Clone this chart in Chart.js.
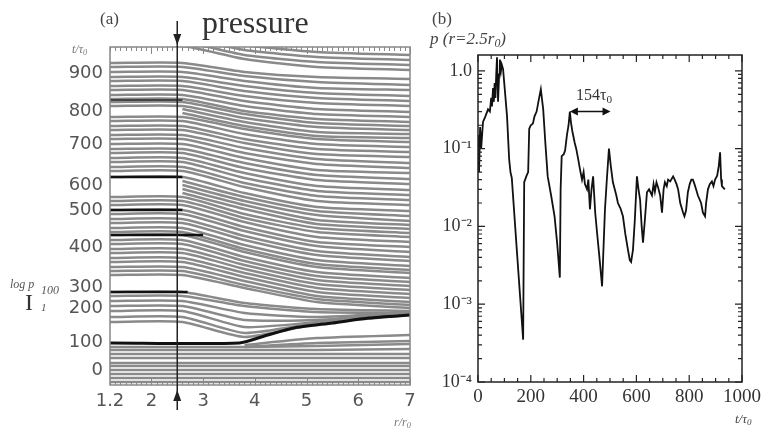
<!DOCTYPE html>
<html>
<head>
<meta charset="utf-8">
<script src="https://cdn.jsdelivr.net/npm/chart.js@4.4.1/dist/chart.umd.min.js"></script>
<style>
  html, body { margin: 0; padding: 0; background: #fff; }
  #wrap { position: relative; width: 765px; height: 436px; overflow: hidden; background: #fff; }
  canvas { position: absolute; left: 0; top: 0; }
  .t { position: absolute; white-space: nowrap; line-height: 1; }
  .serif { font-family: "Liberation Serif", "DejaVu Serif", serif; }
  .it { font-style: italic; }
  .sub { font-size: 70%; vertical-align: -0.25em; }
</style>
</head>
<body>
<div id="wrap">
  <canvas id="chartA" width="765" height="436" style="width:765px;height:436px"></canvas>
  <canvas id="chartB" width="765" height="436" style="width:765px;height:436px"></canvas>

  <div class="t serif" style="left:100px;top:10px;font-size:17px;color:#444">(a)</div>
  <div class="t serif" style="left:202px;top:6px;font-size:32px;color:#333">pressure</div>
  <div class="t serif it" style="left:72px;top:43px;font-size:12px;color:#777">t/τ<span class="sub">0</span></div>
  <div class="t serif it" style="left:10px;top:278px;font-size:12px;color:#555">log p</div>
  <div class="t serif it" style="left:41px;top:284px;font-size:12px;color:#555">100</div>
  <div class="t serif" style="left:25px;top:290px;font-size:24px;color:#333">I</div>
  <div class="t serif it" style="left:41px;top:302px;font-size:11px;color:#555">1</div>
  <div class="t serif it" style="left:394px;top:416px;font-size:12px;color:#777">r/r<span class="sub">0</span></div>

  <div class="t serif" style="left:432px;top:10px;font-size:17px;color:#444">(b)</div>
  <div class="t serif it" style="left:430px;top:30px;font-size:17px;color:#444">p (r=2.5r<span class="sub">0</span>)</div>
  <div class="t serif" style="left:576px;top:87px;font-size:16px;color:#333">154τ<span class="sub">0</span></div>
  <div class="t serif it" style="left:735px;top:412px;font-size:13px;color:#444">t/τ<span class="sub">0</span></div>
</div>

<script>
"use strict";

// ---------- panel (a): stacked pressure profiles ----------
// y of panel (a) is the stacking offset; t/τ0 labels sit at these offsets
const aTickPos  = [15, 43, 77, 98, 138, 175, 200, 241, 274, 312];
const aTickText = ["0", "100", "200", "300", "400", "500", "600", "700", "800", "900"];
const rTicks     = [1.2, 2, 3, 4, 5, 6, 7];
const rTickText  = ["1.2", "2", "3", "4", "5", "6", "7"];
const probeR = 2.5;

// profiles: offset at r = 1.2..2.6, 3.8, 5.2, 7.0
const profileR = [1.2, 2.6, 3.8, 5.2, 7.0];
const upperProfiles = [
  [352, 340, 333, 330], [347, 335, 328, 325], [343, 330, 323, 320], [339, 326, 318, 315],
  [322, 313, 308, 306], [318, 309, 303, 300], [313, 304, 297, 295], [308, 299, 292, 289],
  [304, 294, 287, 284], [299, 289, 282, 279], [295, 284, 276, 273], [290, 279, 271, 268],
  [286, 274, 266, 263], [283, 271, 262, 259], [279, 267, 258, 255], [268, 256, 246, 243],
  [264, 251, 241, 238], [259, 246, 236, 233], [255, 242, 231, 228], [250, 237, 226, 222],
  [246, 232, 221, 217], [241, 227, 215, 212], [236, 222, 210, 206], [232, 217, 205, 201],
  [227, 212, 199, 195], [223, 207, 194, 190], [218, 202, 189, 185], [214, 198, 184, 180],
  [208, 192, 178, 174], [188, 171, 157, 152], [184, 167, 153, 148], [180, 163, 148, 143],
  [175, 158, 143, 138], [171, 154, 139, 133], [166, 149, 134, 128], [162, 145, 130, 124],
  [157, 140, 125, 119], [153, 136, 121, 115], [150, 133, 118, 112], [145, 128, 113, 107],
  [141, 124, 109, 103], [136, 120, 105, 99], [132, 116, 101, 95], [127, 112, 97, 91],
  [123, 108, 93, 87], [118, 104, 89, 83], [114, 100, 86, 80], [110, 97, 83, 77],
  [93, 82, 76, 74], [89, 79, 73, 72], [84, 72, 68, 73], [79, 65, 65, 72],
  [74, 58, 63, 71], [68, 52, 62, 71], [63, 48, 61, 70]
];
const lowerProfiles = [
  [38, 38, 39, 41], [35, 35, 35, 36], [31, 31, 31, 31], [27, 27, 27, 27], [22, 22, 22, 22],
  [19, 19, 19, 19], [15, 15, 15, 15], [11, 11, 11, 11], [7, 7, 7, 7], [3, 3, 3, 3]
];
// profiles that only show right of the probe: offset at r = 2.6, 3.8, 5.2, 7.0
const rightR = [2.6, 3.8, 5.2, 7.0];
const rightProfiles = [
  [276, 263, 253, 251], [272, 259, 249, 247], [204, 188, 174, 169], [200, 184, 170, 164],
  [196, 180, 165, 160], [192, 176, 161, 156], [null, 40, 47, 50], [null, 38, 42, 44]
];
// the dark shock fronts
const frontR = [1.2, 3.7, 4.25, 4.75, 5.5, 6.2, 7.0];
const frontY = [42, 42, 50, 57, 62, 67, 70];
const stripY   = [93, 150, 175, 208, 285];
const stripEnd = [2.7, 3.0, 2.6, 2.6, 2.6];

// ---------- panel (b): p at r = 2.5 r0 ----------
const tVals = [0, 4, 8, 12, 19, 28, 38, 45, 50, 53, 57, 60, 63, 66, 69, 72, 76, 80, 83, 87, 90, 95,
  102, 110, 118, 123, 128, 147, 171, 175, 184, 190, 194, 200, 208, 214, 222, 230, 238, 247, 255,
  264, 277, 290, 300, 310, 313, 317, 325, 330, 337, 343, 348, 352, 357, 362, 366, 372, 379, 386,
  394, 400, 405, 413, 418, 424, 430, 436, 444, 451, 460, 470, 476, 481, 488, 496, 503, 511, 518,
  524, 530, 540, 549, 558, 568, 575, 580, 587, 594, 602, 608, 614, 620, 625, 632, 640, 648, 659,
  665, 670, 676, 682, 690, 697, 703, 708, 715, 720, 728, 739, 745, 752, 758, 766, 777, 782, 788,
  795, 802, 808, 814, 820, 826, 833, 845, 852, 860, 864, 871, 878, 886, 892, 898, 906, 912, 917,
  921, 924, 935];
const pVals = [0.15, 0.05, 0.19, 0.1, 0.22, 0.26, 0.32, 0.3, 0.45, 0.35, 0.6, 0.4, 0.7, 0.45, 0.9,
  1.5, 0.4, 0.9, 1.4, 1.0, 1.2, 1.05,
  0.55, 0.26, 0.073, 0.05, 0.042, 0.005, 0.00035, 0.037, 0.045, 0.05, 0.18, 0.2, 0.21, 0.26, 0.3,
  0.42, 0.58, 0.32, 0.12,
  0.044, 0.025, 0.0135, 0.006, 0.0022, 0.03, 0.08, 0.085, 0.095, 0.15, 0.2, 0.3, 0.22, 0.17, 0.14,
  0.12, 0.1, 0.075, 0.055,
  0.04, 0.05, 0.035, 0.03, 0.04, 0.0166, 0.03, 0.044, 0.015, 0.0083, 0.004, 0.0017, 0.006, 0.0166,
  0.04, 0.1, 0.06, 0.037, 0.03,
  0.025, 0.02, 0.017, 0.0135, 0.008, 0.005, 0.0037, 0.0035, 0.005, 0.012, 0.044, 0.03, 0.022, 0.01,
  0.0062, 0.012, 0.0275, 0.03, 0.025,
  0.035, 0.028, 0.037, 0.032, 0.025, 0.015, 0.03, 0.037, 0.033, 0.04, 0.038, 0.044, 0.04, 0.035,
  0.03, 0.02, 0.015, 0.0135, 0.016,
  0.0275, 0.035, 0.04, 0.04, 0.035, 0.03, 0.025, 0.02, 0.015, 0.0135, 0.02, 0.03, 0.035, 0.038,
  0.033, 0.04, 0.045, 0.06, 0.09,
  0.04, 0.033, 0.03];
const tTicks = [0, 200, 400, 600, 800, 1000];
const pTicks = [1e-4, 1e-3, 1e-2, 1e-1, 1];
const pTickText = ["10\u207B\u2074", "10\u207B\u00B3", "10\u207B\u00B2", "10\u207B\u00B9", "1.0"];
const periodSpan = [348, 502];
const periodLevel = 0.3;

// ---------- helpers ----------
function profileData(xs, ys) {
  return xs.map((x, i) => ({ x, y: ys[i] }));
}

// higher "order" is painted first, so the dark fronts (order 0) end up on top
const thin = { borderColor: "#8a8a8a", borderWidth: 2.5, pointRadius: 0, tension: 0.2, fill: false, order: 1 };
const datasetsA = [];
upperProfiles.concat(lowerProfiles).forEach((p) => {
  datasetsA.push({ ...thin, data: profileData(profileR, [p[0], p[0], p[1], p[2], p[3]]) });
});
rightProfiles.forEach((p) => {
  datasetsA.push({ ...thin, data: profileData(rightR, p) });
});
stripY.forEach((y, i) => {
  datasetsA.push({ borderColor: i === 4 ? "#444" : "#111", borderWidth: i === 4 ? 2 : 2.6, pointRadius: 0,
    order: 0, data: profileData([1.2, stripEnd[i]], [y, y]) });
});
datasetsA.push({ borderColor: "#111", borderWidth: 3, pointRadius: 0, tension: 0.2, order: 0,
  data: profileData(frontR, frontY) });

// frame, inward ticks and the probe arrow of panel (a)
const frameA = {
  id: "frameA",
  afterDraw(chart) {
    const { ctx, chartArea: a, scales: { x } } = chart;
    ctx.save();
    ctx.strokeStyle = "#888";
    ctx.lineWidth = 1.5;
    ctx.strokeRect(a.left, a.top, a.right - a.left, a.bottom - a.top);
    ctx.lineWidth = 1;
    for (let k = 12; k <= 70; k++) {
      const px = Math.round(x.getPixelForValue(k / 10)) + 0.5;
      const len = k % 10 === 0 ? 7 : 4;
      ctx.beginPath();
      ctx.moveTo(px, a.top); ctx.lineTo(px, a.top + len);
      ctx.moveTo(px, a.bottom); ctx.lineTo(px, a.bottom - len);
      ctx.stroke();
    }
    const px = x.getPixelForValue(probeR);
    ctx.strokeStyle = "#222";
    ctx.fillStyle = "#222";
    ctx.lineWidth = 1.5;
    ctx.beginPath();
    ctx.moveTo(px, 21); ctx.lineTo(px, 410);
    ctx.stroke();
    ctx.beginPath();
    ctx.moveTo(px, 45); ctx.lineTo(px - 4, 34); ctx.lineTo(px + 4, 34); ctx.closePath();
    ctx.moveTo(px, 390); ctx.lineTo(px - 4, 401); ctx.lineTo(px + 4, 401); ctx.closePath();
    ctx.fill();
    ctx.restore();
  }
};

new Chart(document.getElementById("chartA"), {
  type: "line",
  data: { datasets: datasetsA },
  options: {
    responsive: false,
    animation: false,
    layout: { padding: { left: 0, right: 355, top: 47, bottom: 0 } },
    plugins: { legend: { display: false }, tooltip: { enabled: false } },
    scales: {
      x: {
        type: "linear", min: 1.2, max: 7,
        grid: { display: false, drawTicks: false }, border: { display: false },
        afterBuildTicks: (s) => { s.ticks = rTicks.map((v) => ({ value: v })); },
        afterFit: (s) => { s.height = 51; },
        ticks: { autoSkip: false, maxRotation: 0, padding: 6, color: "#555",
          font: { family: "DejaVu Sans", size: 18 }, callback: (v, i) => rTickText[i] }
      },
      y: {
        type: "linear", min: 0, max: 338,
        grid: { display: false, drawTicks: false }, border: { display: false },
        afterBuildTicks: (s) => { s.ticks = aTickPos.map((v) => ({ value: v })); },
        afterFit: (s) => { s.width = 110; },
        ticks: { autoSkip: false, padding: 7, color: "#555",
          font: { family: "DejaVu Sans", size: 18 }, callback: (v, i) => aTickText[i] }
      }
    }
  },
  plugins: [frameA]
});

// frame, ticks and period arrow of panel (b)
const frameB = {
  id: "frameB",
  afterDraw(chart) {
    const { ctx, chartArea: a, scales: { x, y } } = chart;
    ctx.save();
    ctx.strokeStyle = "#222";
    ctx.lineWidth = 1.5;
    ctx.strokeRect(a.left, a.top, a.right - a.left, a.bottom - a.top);
    ctx.lineWidth = 1.2;
    ctx.beginPath();
    for (let t = 0; t <= 1000; t += 50) {
      const px = x.getPixelForValue(t);
      const len = t % 200 === 0 ? 7 : 4;
      ctx.moveTo(px, a.bottom); ctx.lineTo(px, a.bottom - len);
      ctx.moveTo(px, a.top); ctx.lineTo(px, a.top + len);
    }
    for (let d = -4; d <= 0; d++) {
      for (let m = 1; m <= 9; m++) {
        const v = m * Math.pow(10, d);
        if (v > y.max) break;
        const py = y.getPixelForValue(v);
        const len = m === 1 ? 7 : 4;
        ctx.moveTo(a.left, py); ctx.lineTo(a.left + len, py);
        ctx.moveTo(a.right, py); ctx.lineTo(a.right - len, py);
      }
    }
    ctx.stroke();
    // 154 tau0 period arrow
    const x0 = x.getPixelForValue(periodSpan[0]);
    const x1 = x.getPixelForValue(periodSpan[1]);
    const py = y.getPixelForValue(periodLevel);
    ctx.fillStyle = "#111";
    ctx.strokeStyle = "#111";
    ctx.lineWidth = 1.5;
    ctx.beginPath();
    ctx.moveTo(x0 + 3, py); ctx.lineTo(x1 - 3, py);
    ctx.stroke();
    ctx.beginPath();
    ctx.moveTo(x0, py); ctx.lineTo(x0 + 8, py - 4); ctx.lineTo(x0 + 8, py + 4); ctx.closePath();
    ctx.moveTo(x1, py); ctx.lineTo(x1 - 8, py - 4); ctx.lineTo(x1 - 8, py + 4); ctx.closePath();
    ctx.fill();
    ctx.restore();
  }
};

new Chart(document.getElementById("chartB"), {
  type: "line",
  data: {
    datasets: [{
      data: profileData(tVals, pVals),
      borderColor: "#111", borderWidth: 1.8, pointRadius: 0, tension: 0, fill: false
    }]
  },
  options: {
    responsive: false,
    animation: false,
    layout: { padding: { left: 0, right: 23, top: 55, bottom: 0 } },
    plugins: { legend: { display: false }, tooltip: { enabled: false } },
    scales: {
      x: {
        type: "linear", min: 0, max: 1000,
        grid: { display: false, drawTicks: false }, border: { display: false },
        afterBuildTicks: (s) => { s.ticks = tTicks.map((v) => ({ value: v })); },
        afterFit: (s) => { s.height = 54; },
        ticks: { autoSkip: false, maxRotation: 0, padding: 4, color: "#333",
          font: { family: "Liberation Serif", size: 19 }, callback: (v) => String(v) }
      },
      y: {
        type: "logarithmic", min: 1e-4, max: 1.6,
        grid: { display: false, drawTicks: false }, border: { display: false },
        afterBuildTicks: (s) => { s.ticks = pTicks.map((v) => ({ value: v })); },
        afterFit: (s) => { s.width = 478; },
        ticks: { autoSkip: false, padding: 6, color: "#333",
          font: { family: "Liberation Serif", size: 18 }, callback: (v, i) => pTickText[i] }
      }
    }
  },
  plugins: [frameB]
});
</script>
</body>
</html>
